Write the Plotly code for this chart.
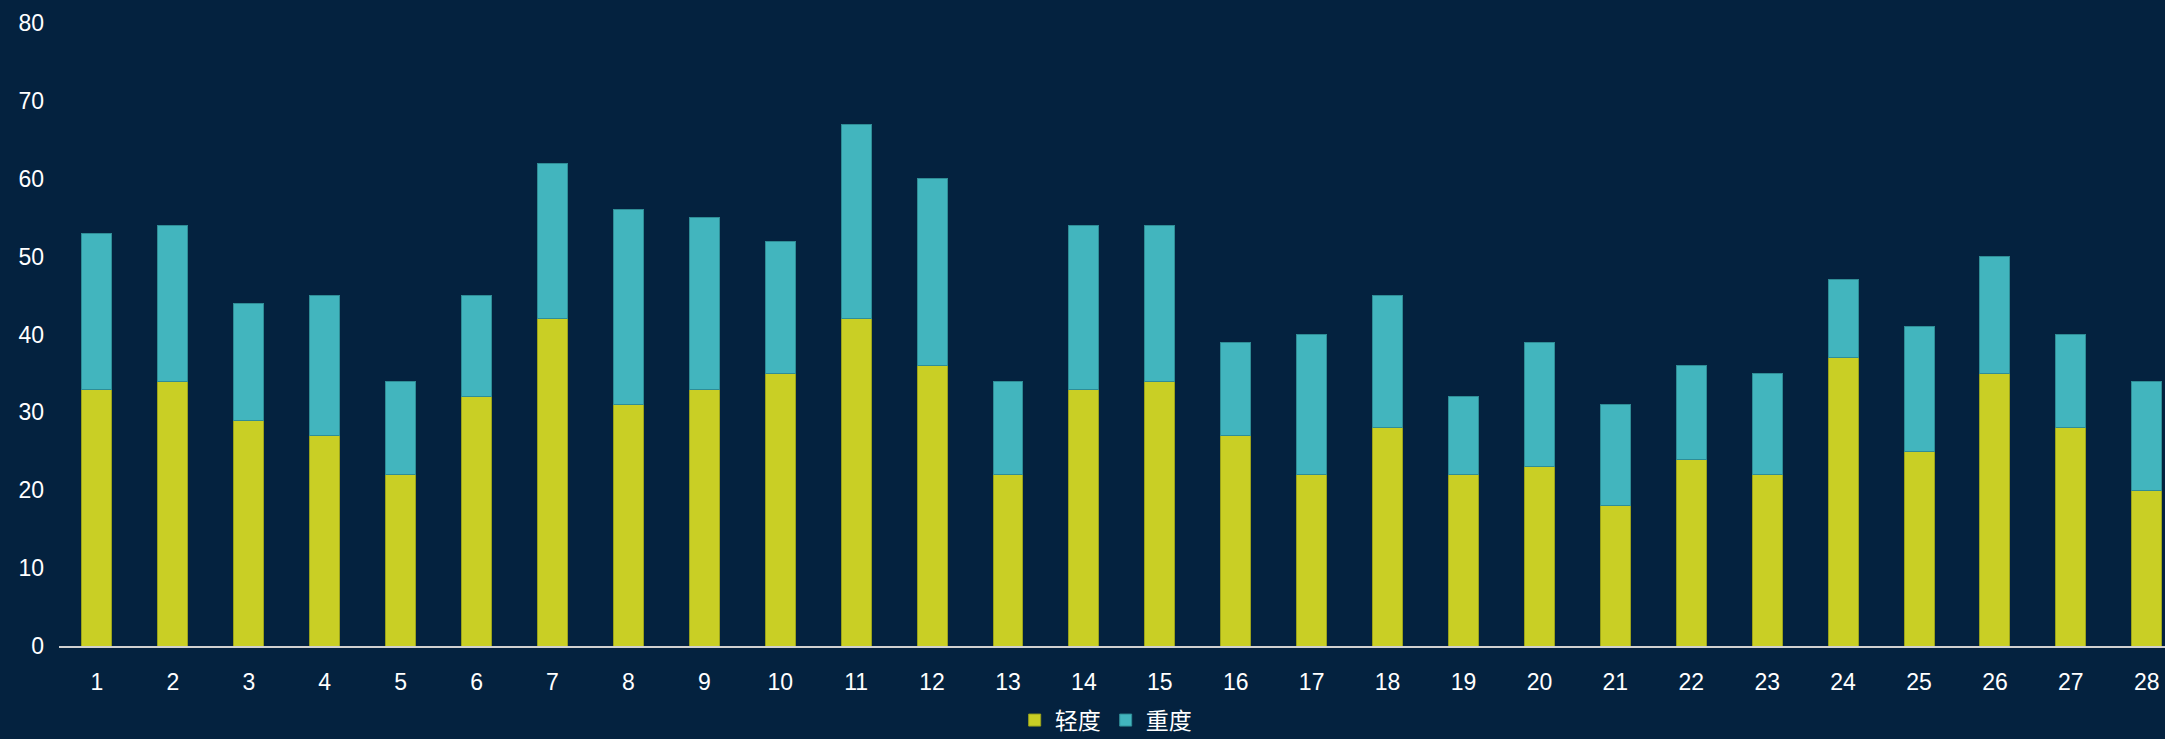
import plotly.graph_objects as go

categories = [str(i) for i in range(1, 29)]
light = [33, 34, 29, 27, 22, 32, 42, 31, 33, 35, 42, 36, 22, 33, 34, 27, 22, 28, 22, 23, 18, 24, 22, 37, 25, 35, 28, 20]
heavy = [20, 20, 15, 18, 12, 13, 20, 25, 22, 17, 25, 24, 12, 21, 20, 12, 18, 17, 10, 16, 13, 12, 13, 10, 16, 15, 12, 14]
y_ticks = [0, 10, 20, 30, 40, 50, 60, 70, 80]

BG = "#04223f"
FONT = "Arial, Liberation Sans, Noto Sans CJK SC, sans-serif"

fig = go.Figure()
fig.add_trace(go.Bar(
    x=categories, y=light, name="轻度",
    marker=dict(color="#c9cf25", line=dict(color="#9aa21c", width=1)),
    width=0.395,
))
fig.add_trace(go.Bar(
    x=categories, y=heavy, name="重度",
    marker=dict(color="#42b5be", line=dict(color="#2f8d96", width=1)),
    width=0.395,
))

fig.update_layout(
    barmode="stack",
    width=2165, height=739,
    paper_bgcolor=BG, plot_bgcolor=BG,
    margin=dict(l=59, r=0, t=23, b=93, autoexpand=False),
    font=dict(family=FONT, color="#ffffff", size=23),
    showlegend=True,
    legend=dict(
        orientation="h", x=0.497, xanchor="center", y=-0.119, yanchor="middle",
        font=dict(size=23, color="#ffffff"), bgcolor="rgba(0,0,0,0)",
        itemwidth=30, tracegroupgap=0, traceorder="normal",
    ),
    xaxis=dict(
        type="category", range=[-0.5, 27.24],
        showgrid=False, showline=True, linecolor="#d0d0d0", linewidth=2,
        ticks="", tickfont=dict(size=23, color="#ffffff"),
        ticklabelstandoff=14, zeroline=False,
    ),
    yaxis=dict(
        range=[0, 80], tickvals=y_ticks, showgrid=False, showline=False,
        zeroline=False, ticks="", tickfont=dict(size=23, color="#ffffff"),
        ticklabelstandoff=14,
    ),
)

fig.write_html(
    "out.html",
    config={"displayModeBar": False},
    post_script="document.body.style.margin='0';document.body.style.background='%s';document.body.style.overflow='hidden';" % BG,
)
